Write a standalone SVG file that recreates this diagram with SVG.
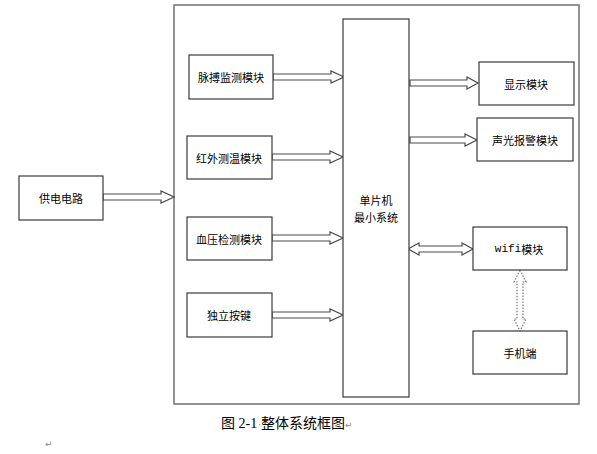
<svg xmlns="http://www.w3.org/2000/svg" width="597" height="454" viewBox="0 0 597 454">
<style>
.box{fill:#fff;stroke:#3a3a3a;stroke-width:1.2}
.outer{fill:#fff;stroke:#7a7a7a;stroke-width:1.6}
.t{font-family:"Noto Sans CJK SC",sans-serif;font-size:11px;fill:#000;text-anchor:middle;dominant-baseline:central}
.arr{fill:#fff;stroke:#4a4a4a;stroke-width:1.2}
.dot{fill:#fff;stroke:#777;stroke-width:1.2;stroke-dasharray:1.5 1.5}
.cap{font-family:"Liberation Serif","Noto Sans CJK SC",serif;font-size:14px;fill:#000}
.mark{font-family:"DejaVu Sans",sans-serif;font-size:9px;fill:#888}
</style>
<rect class="outer" x="174" y="5" width="405" height="399"/>
<g id="connectors">
<path class="arr" d="M273,74 H331 V71 L344,77 L331,83 V80 H273 Z"/>
<path class="arr" d="M272,154 H330 V151 L343,157 L330,163 V160 H272 Z"/>
<path class="arr" d="M272,235 H330 V232 L343,238 L330,244 V241 H272 Z"/>
<path class="arr" d="M272,312 H330 V309 L343,315 L330,321 V318 H272 Z"/>
<path class="arr" d="M103,194 H161 V191 L174,197 L161,203 V200 H103 Z"/>
<path class="arr" d="M410,80 H467 V77 L478,83 L467,89 V86 H410 Z"/>
<path class="arr" d="M410,137 H465 V134 L477,140 L465,146 V143 H410 Z"/>
<path class="arr" d="M408,249 L419,243 V246 H462 V243 L473,249 L462,255 V252 H419 V255 Z"/>
<path class="dot" d="M520,270 L526,282 H523 V319 H526 L520,331 L514,319 H517 V282 H514 Z"/>
</g>
<g id="mcu"><rect class="box" x="343" y="19" width="66" height="378"/>
<text class="t" x="376" y="200">单片机</text><text class="t" x="376" y="217">最小系统</text></g>
<g id="pulse"><rect class="box" x="189" y="55" width="84" height="44"/><text class="t" x="231" y="77">脉搏监测模块</text></g>
<g id="temp"><rect class="box" x="187" y="136" width="85" height="43"/><text class="t" x="229" y="158">红外测温模块</text></g>
<g id="bp"><rect class="box" x="187" y="217" width="85" height="43"/><text class="t" x="229" y="239">血压检测模块</text></g>
<g id="key"><rect class="box" x="187" y="293" width="85" height="44"/><text class="t" x="229" y="315">独立按键</text></g>
<g id="power"><rect class="box" x="19" y="176" width="84" height="44"/><text class="t" x="61" y="198">供电电路</text></g>
<g id="display"><rect class="box" x="479" y="62" width="95" height="43"/><text class="t" x="526" y="84">显示模块</text></g>
<g id="alarm"><rect class="box" x="477" y="118" width="96" height="43"/><text class="t" x="525" y="140">声光报警模块</text></g>
<g id="wifi"><rect class="box" x="473" y="227" width="94" height="43"/><text class="t" x="519" y="249"><tspan font-family="Liberation Mono,monospace" font-size="11">wifi</tspan>模块</text></g>
<g id="phone"><rect class="box" x="473" y="331" width="94" height="43"/><text class="t" x="520" y="353">手机端</text></g>
<text class="cap" x="221" y="428">图 2-1<tspan class="mark" dx="1">·</tspan>整体系统框图<tspan class="mark">↵</tspan></text>
<text class="mark" x="45" y="447">↵</text>
</svg>
